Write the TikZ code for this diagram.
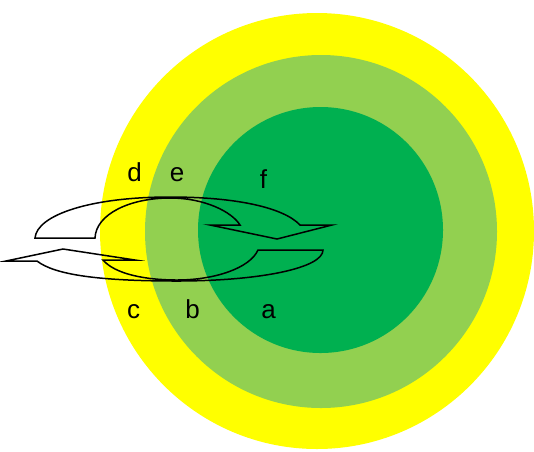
\documentclass[tikz,border=0pt]{standalone}
\usepackage{fontspec}
\setmainfont{Liberation Sans}
\usepackage{tikz}
\usetikzlibrary{positioning}
\definecolor{ringY}{RGB}{255,255,0}
\definecolor{ringL}{RGB}{146,208,80}
\definecolor{ringD}{RGB}{0,176,80}
\tikzset{
  ring/.style={line width=0pt},
  arrowln/.style={draw=black, line width=1.5pt, line join=miter, miter limit=20},
  lbl/.style={anchor=base, inner sep=0pt, font=\fontsize{26}{30}\selectfont},
}
\begin{document}
\begin{tikzpicture}[x=1pt, y=-1pt]
  \useasboundingbox (0,0) rectangle (534,451);
  \fill[white] (0,0) rectangle (534,451);
  % three rings
  \fill[ring, ringY] (317,231) ellipse (217 and 218);
  \fill[ring, ringL] (321,231.5) ellipse (176 and 176.5);
  \fill[ring, ringD] (320.5,230) ellipse (122.5 and 123);
  % upper curved arrow, head down on the right
  \draw[arrowln] (35,238) .. controls (37,215) and (90,197) .. (170,197)
    .. controls (238,197) and (284,208) .. (300,225)
    -- (332,225) -- (277,239) -- (210,225) -- (240,225)
    .. controls (232,212) and (205,198) .. (170,198)
    .. controls (130,198) and (96,214) .. (95,238) -- cycle;
  % lower curved arrow, head up on the left
  \draw[arrowln] (258,250) -- (323,250)
    .. controls (323,268) and (260,281) .. (177,281)
    .. controls (100,281) and (55,275) .. (37,261)
    -- (6,261) -- (63,249) -- (135,260) -- (103,260)
    .. controls (115,274) and (145,280) .. (177,280)
    .. controls (215,280) and (250,268) .. (258,250) -- cycle;
  % labels
  \node[lbl] (d) at (134.5,181) {d};
  \node[lbl] (e) at (177,181) {e};
  \node[lbl] (f) at (263.5,188) {f};
  \node[lbl] (c) at (133.5,318) {c};
  \node[lbl] (b) at (192.5,318) {b};
  \node[lbl] (a) at (268.5,318) {a};
\end{tikzpicture}
\end{document}
